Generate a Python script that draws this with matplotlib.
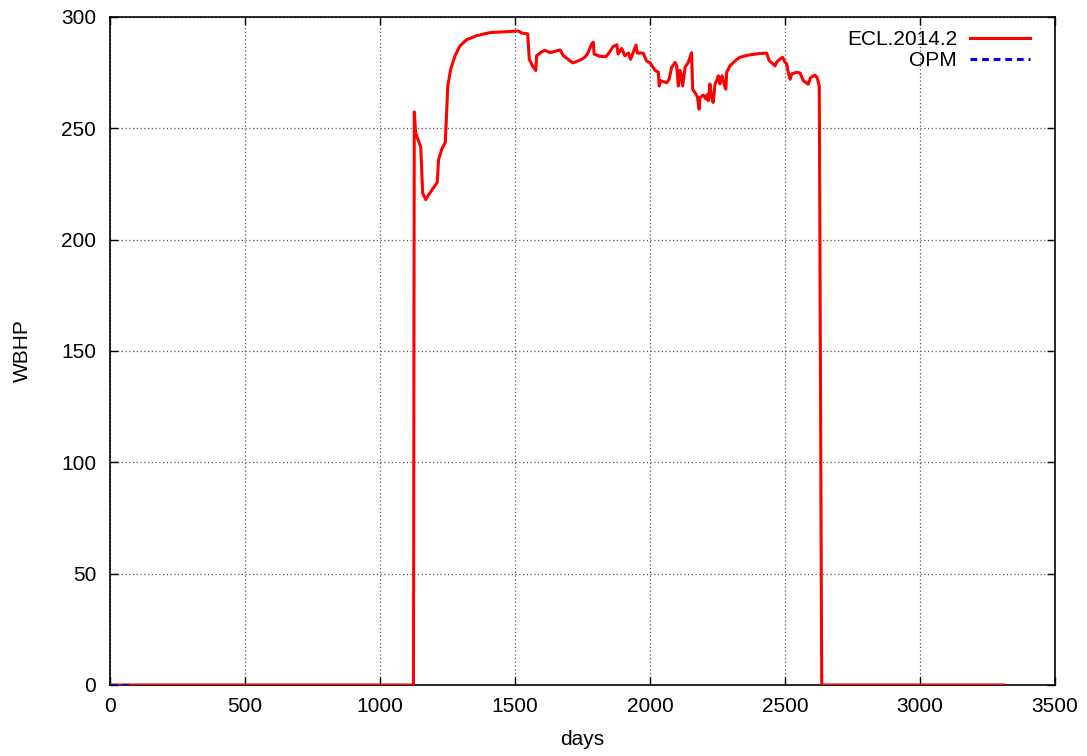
import matplotlib
matplotlib.use("Agg")
import matplotlib.pyplot as plt

plt.rcParams['font.family'] = ['Liberation Sans', 'DejaVu Sans']

# =======================
# DATA
# =======================
ecl_days = [0, 1120, 1124, 1127, 1132, 1151, 1158, 1169, 1185, 1212, 1217, 1229, 1242,
            1251, 1262, 1278, 1296, 1321, 1358, 1407, 1512, 1525, 1547, 1553, 1565,
            1577, 1580, 1599, 1611, 1630, 1667, 1679, 1697, 1714, 1728, 1747, 1759,
            1771, 1784, 1790, 1793, 1815, 1837, 1849, 1864, 1877, 1882, 1895, 1907,
            1920, 1928, 1948, 1953, 1975, 1987, 2000, 2019, 2031, 2034, 2039, 2062,
            2071, 2080, 2093, 2099, 2105, 2111, 2115, 2121, 2130, 2142, 2154, 2158,
            2170, 2176, 2182, 2185, 2197, 2207, 2210, 2216, 2222, 2228, 2234, 2241,
            2247, 2253, 2259, 2263, 2267, 2278, 2281, 2284, 2296, 2315, 2333, 2364,
            2407, 2432, 2442, 2456, 2463, 2469, 2481, 2491, 2500, 2506, 2512, 2519,
            2525, 2543, 2556, 2568, 2580, 2586, 2595, 2611, 2619, 2627, 2636, 3310]
ecl_wbhp = [0, 0, 0, 257.4, 248, 241.5, 221, 218, 221, 225.7, 236, 240.7, 243.7,
            269, 276.6, 282.6, 287, 289.8, 291.6, 293, 293.7, 292.8, 292.4, 281, 278,
            276, 282.6, 284.4, 285, 284, 285.2, 282.6, 281, 279.4, 280, 281, 281.9,
            284, 287.9, 288.7, 283.4, 282.3, 282.2, 284, 286.8, 287.5, 283.4, 285.9, 282.6,
            283.8, 281, 287.4, 283.8, 283.8, 280.3, 279.4, 276, 275.2, 269, 271.4, 270.5,
            272, 277.4, 279.6, 277.9, 269, 276, 274.3, 269, 277.4, 279.7, 284, 267.6,
            265.4, 263.9, 258.6, 263.9, 264.9, 263.2, 265, 262.4, 269.9, 264, 261.6, 270,
            271.4, 273.6, 270, 272.2, 273.6, 268.3, 267.6, 275.2, 278, 280.3, 281.9, 282.9,
            283.6, 283.8, 280.3, 278.9, 278, 279.7, 281.1, 281.9, 279.7, 279, 275.2, 272,
            274.4, 275.2, 274.8, 271.4, 270.3, 269.8, 272.8, 273.9, 272.8, 269, 0, 0]

opm_days = [0, 31, 59, 85]
opm_wbhp = [0, 0, 0, 0]

x_ticks = [0, 500, 1000, 1500, 2000, 2500, 3000, 3500]
y_ticks = [0, 50, 100, 150, 200, 250, 300]

# =======================
# PLOT
# =======================
fig = plt.figure(figsize=(10.87, 7.56), dpi=100)
ax = fig.add_axes([110 / 1087, 71 / 756, 945 / 1087, 668 / 756])

ax.plot(ecl_days, ecl_wbhp, color='#ff0000', lw=2.2, label='ECL.2014.2', zorder=3)
ax.plot(opm_days, opm_wbhp, color='#0000ff', lw=2.2, ls=(0, (2.2, 1.6)), label='OPM', zorder=4)

ax.set_xlim(0, 3500)
ax.set_ylim(0, 300)
ax.set_xticks(x_ticks)
ax.set_yticks(y_ticks)
ax.tick_params(direction='in', length=6, width=1, top=True, right=True, labelsize=15)
ax.tick_params(axis='x', pad=9)
ax.tick_params(axis='y', pad=10)
ax.grid(True, color='#555555', ls=(0, (1, 2)), lw=0.9)
for s in ax.spines.values():
    s.set_linewidth(1.2)

ax.set_xlabel('days', fontsize=15, labelpad=10)
ax.set_ylabel('WBHP', fontsize=15, labelpad=21)

ax.legend(loc='upper right', bbox_to_anchor=(0.9735, 0.9805), frameon=False,
          markerfirst=False, fontsize=15, handlelength=2.9, handletextpad=0.6,
          labelspacing=0.1, borderaxespad=0, borderpad=0)

fig.savefig('out.png', dpi=100)
